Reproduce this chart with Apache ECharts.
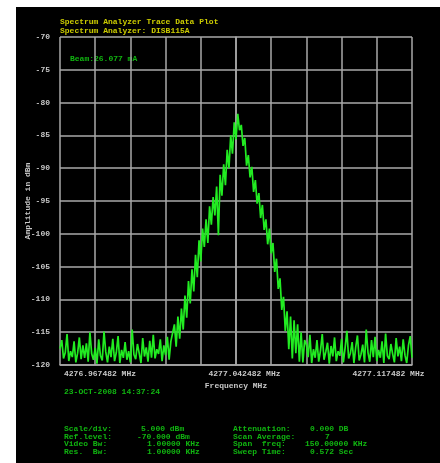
<!DOCTYPE html>
<html>
<head>
<meta charset="utf-8">
<script src="https://cdn.jsdelivr.net/npm/echarts@6/dist/echarts.min.js"></script>
<style>
  html, body { margin: 0; padding: 0; background: #fff; }
  #chart { width: 440px; height: 463px; }
</style>
</head>
<body>
<div id="chart"></div>
<script>
// Trace amplitudes (dBm), 201 sweep points across a 150 kHz span
const traceDbm = [
  -117.5,-116.2,-119.0,-118.1,-115.3,-119.4,-117.9,-118.8,-116.4,-119.6,
  -118.2,-115.8,-119.1,-117.0,-118.9,-116.7,-119.5,-115.0,-118.3,-119.2,
  -117.4,-119.8,-116.1,-118.6,-119.3,-114.9,-118.0,-119.6,-117.2,-118.8,
  -116.0,-119.4,-118.1,-115.6,-119.7,-117.7,-118.9,-116.5,-119.2,-117.9,
  -119.6,-114.6,-118.4,-119.1,-116.8,-118.2,-119.7,-115.9,-118.7,-117.3,
  -119.5,-116.3,-118.9,-115.4,-119.0,-117.6,-118.3,-116.1,-119.4,-117.0,
  -118.5,-115.7,-119.2,-116.4,
  -116.5,-113.8,-117.2,-112.6,-116.0,-111.4,-114.6,-109.4,-112.8,-107.2,
  -110.6,-105.4,-108.8,-103.2,-106.6,-101.0,-104.2,-99.2,-102.0,-97.8,
  -101.4,-95.8,-98.6,-94.4,-97.2,-92.8,-100.2,-91.0,-94.2,-89.4,
  -92.6,-87.2,-90.0,-85.0,-87.8,-83.0,-85.6,-81.7,-84.2,
  -83.4,-86.6,-85.4,-89.6,-88.0,-91.4,-89.8,-93.6,-91.8,-95.4,
  -93.8,-97.6,-95.6,-99.4,-97.8,-101.6,-99.2,-103.0,-101.4,-105.8,
  -103.8,-108.4,-106.8,-111.6,-109.6,-114.8,-111.8,-117.6,-112.6,-119.0,
  -113.2,-118.2,-113.8,-119.5,-115.0,-119.6,-116.2,
  -116.9,-118.8,-115.4,-119.7,-117.6,-118.9,-116.2,-119.5,-117.8,-115.3,
  -119.2,-118.0,-116.6,-119.8,-117.1,-118.7,-115.8,-119.4,-117.9,-118.6,
  -116.0,-119.6,-117.4,-114.8,-119.0,-118.2,-116.5,-119.7,-117.3,-115.5,
  -119.3,-118.4,-116.9,-119.6,-114.6,-118.1,-119.5,-116.2,-118.8,-115.7,
  -119.4,-117.7,-118.9,-116.4,-119.7,-115.2,-118.6,-119.1,-116.8,-118.3,
  -119.6,-115.9,-118.7,-117.2,-119.4,-116.1,-118.5,-119.7,-117.0,-115.6,
  -118.9
];

// Frequency axis: offsets from centre in kHz, labelled with absolute MHz
const spanKHz = 150;
const freqTickOffsets = [-75, 0, 75];
const freqTickLabels = ['4276.967482 MHz', '4277.042482 MHz', '4277.117482 MHz'];

// Amplitude axis
const ampMin = -120, ampMax = -70, ampStep = 5;

const titleLines = ['Spectrum Analyzer Trace Data Plot', 'Spectrum Analyzer: DISB115A'];
const beamText = 'Beam:26.077 mA';
const stampText = '23-OCT-2008 14:37:24';
const setupNames = ['Scale/div:', 'Ref.level:', 'Video Bw:', 'Res.  Bw:'];
const setupValues = ['5.000 dBm', '-70.000 dBm', '1.00000 KHz', '1.00000 KHz'];
const sweepNames = ['Attenuation:', 'Scan Average:', 'Span  freq:', 'Sweep Time:'];
const sweepValues = ['0.000 DB', '7', '150.00000 KHz', '0.572 Sec'];

const points = traceDbm.map((v, i) => [-spanKHz / 2 + i * spanKHz / (traceDbm.length - 1), v]);

const MONO = '"Liberation Mono", "DejaVu Sans Mono", monospace';
const GREEN = '#10b410';
const YELLOW = '#cccc00';
const GRIDC = '#a9a9a9';
const LABELC = '#c8c8c8';

const graphics = [
  { type: 'rect', z: -10, silent: true, shape: { x: 16, y: 7, width: 424, height: 456 }, style: { fill: '#000' } },
  { type: 'text', left: 60, top: 18, style: { text: titleLines[0], fill: YELLOW, font: 'bold 8px ' + MONO } },
  { type: 'text', left: 60, top: 27, style: { text: titleLines[1], fill: YELLOW, font: 'bold 8px ' + MONO } },
  { type: 'text', left: 70, top: 55, style: { text: beamText, fill: GREEN, font: 'bold 8px ' + MONO } },
  { type: 'text', left: 64, top: 388, style: { text: stampText, fill: GREEN, font: 'bold 8px ' + MONO } }
];
const rowY = [425, 432.5, 440, 447.5];
const col2X = [141, 137, 147, 147];
const col4X = [310, 325, 305, 310];
rowY.forEach((y, r) => {
  graphics.push({ type: 'text', left: 64, top: y, style: { text: setupNames[r], fill: GREEN, font: 'bold 8px ' + MONO } });
  graphics.push({ type: 'text', left: col2X[r], top: y, style: { text: setupValues[r], fill: GREEN, font: 'bold 8px ' + MONO } });
  graphics.push({ type: 'text', left: 233, top: y, style: { text: sweepNames[r], fill: GREEN, font: 'bold 8px ' + MONO } });
  graphics.push({ type: 'text', left: col4X[r], top: y, style: { text: sweepValues[r], fill: GREEN, font: 'bold 8px ' + MONO } });
});

const chart = echarts.init(document.getElementById('chart'), null, { renderer: 'canvas' });
chart.setOption({
  backgroundColor: '#fff',
  animation: false,
  graphic: graphics,
  grid: { left: 60, top: 37, width: 352, height: 328, containLabel: false },
  xAxis: {
    type: 'value',
    min: -spanKHz / 2,
    max: spanKHz / 2,
    interval: 15,
    name: 'Frequency MHz',
    nameLocation: 'middle',
    nameGap: 17,
    nameMoveOverlap: false,
    nameTextStyle: { color: LABELC, fontFamily: MONO, fontSize: 8, fontWeight: 'bold' },
    axisLine: { show: true, lineStyle: { color: GRIDC, width: 1.5 } },
    axisTick: { show: false },
    splitLine: { show: true, lineStyle: { color: GRIDC, width: 1.5 } },
    axisLabel: {
      margin: 5,
      showMinLabel: true,
      showMaxLabel: true,
      formatter: function (v) {
        const k = freqTickOffsets.indexOf(Math.round(v));
        if (k < 0) return '';
        return '{' + ['l', 'c', 'r'][k] + '|' + freqTickLabels[k] + '}';
      },
      rich: {
        l: { color: LABELC, fontFamily: MONO, fontSize: 8, fontWeight: 'bold', padding: [0, 0, 0, 80] },
        c: { color: LABELC, fontFamily: MONO, fontSize: 8, fontWeight: 'bold', padding: [0, 0, 0, 17] },
        r: { color: LABELC, fontFamily: MONO, fontSize: 8, fontWeight: 'bold', padding: [0, 47, 0, 0] }
      }
    }
  },
  yAxis: {
    type: 'value',
    min: ampMin,
    max: ampMax,
    interval: ampStep,
    name: 'Amplitude in dBm',
    nameLocation: 'middle',
    nameGap: 28,
    nameMoveOverlap: false,
    nameTextStyle: { color: LABELC, fontFamily: MONO, fontSize: 8, fontWeight: 'bold' },
    axisLine: { show: true, lineStyle: { color: GRIDC, width: 1.5 } },
    axisTick: { show: false },
    splitLine: { show: true, lineStyle: { color: GRIDC, width: 1.5 } },
    axisLabel: { margin: 10, color: LABELC, fontFamily: MONO, fontSize: 8, fontWeight: 'bold' }
  },
  series: [{
    type: 'line',
    data: points,
    showSymbol: false,
    clip: true,
    lineStyle: { color: '#22ec22', width: 1.7 },
    z: 5
  }]
});
</script>
</body>
</html>
